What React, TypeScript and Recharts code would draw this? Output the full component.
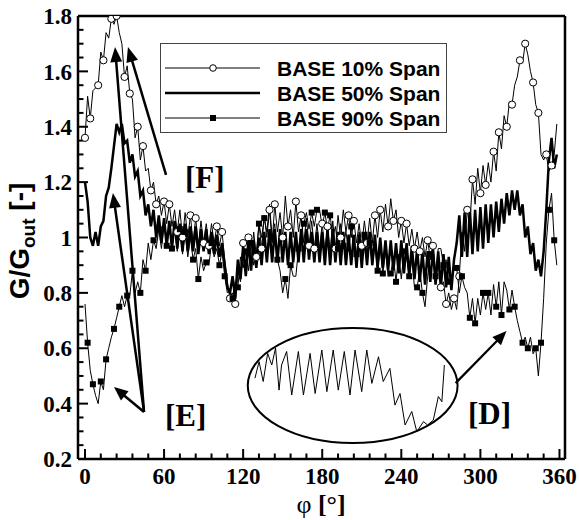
import React from 'react';
import { LineChart, Line, XAxis, YAxis, ReferenceLine, ReferenceArea, ReferenceDot, Legend } from 'recharts';

// ---------- data (phi grid step) ----------
const PHI_STEP = 2; // degrees between samples, phi = 0 .. 358

const S10 = [
  1.36, 1.51, 1.43, 1.53, 1.54, 1.55, 1.67, 1.64, 1.74, 1.72,
  1.79, 1.77, 1.80, 1.74, 1.70, 1.58, 1.62, 1.52, 1.50, 1.36,
  1.40, 1.28, 1.33, 1.24, 1.25, 1.17, 1.20, 1.12, 1.15, 1.08,
  1.13, 1.05, 1.12, 1.04, 1.10, 1.02, 1.10, 1.00, 1.09, 1.00,
  1.08, 0.98, 1.07, 0.97, 1.06, 0.98, 1.05, 0.97, 1.05, 0.98,
  1.04, 0.97, 1.02, 0.92, 0.84, 0.78, 0.80, 0.76, 0.88, 0.84,
  0.98, 0.88, 1.00, 0.90, 1.02, 0.93, 1.05, 0.96, 1.08, 1.00,
  1.10, 0.98, 1.12, 1.02, 1.09, 1.00, 1.15, 1.04, 1.10, 1.00,
  1.13, 1.02, 1.08, 0.98, 1.07, 0.97, 1.06, 0.96, 1.05, 0.96,
  1.05, 0.95, 1.04, 0.94, 1.06, 0.96, 1.08, 1.00, 1.10, 1.02,
  1.08, 1.00, 1.06, 0.98, 1.05, 0.97, 1.06, 0.98, 1.07, 0.98,
  1.08, 1.00, 1.10, 1.02, 1.12, 1.04, 1.14, 1.06, 1.10, 1.00,
  1.06, 0.98, 1.05, 0.97, 1.03, 0.96, 1.02, 0.95, 1.00, 0.93,
  0.99, 0.92, 0.97, 0.88, 0.90, 0.82, 0.84, 0.76, 0.80, 0.74,
  0.78, 0.74, 0.86, 1.02, 0.95, 1.10, 1.04, 1.21, 1.12, 1.25,
  1.16, 1.26, 1.19, 1.27, 1.20, 1.31, 1.24, 1.38, 1.32, 1.44,
  1.40, 1.49, 1.48, 1.55, 1.58, 1.64, 1.63, 1.70, 1.66, 1.60,
  1.56, 1.48, 1.45, 1.30, 1.28, 1.30, 1.24, 1.26, 1.30, 1.41,
];

const S50 = [
  1.20, 1.13, 1.00, 0.97, 1.02, 0.97, 1.04, 1.06, 1.15, 1.18,
  1.25, 1.33, 1.41, 1.38, 1.41, 1.34, 1.35, 1.27, 1.30, 1.22,
  1.24, 1.15, 1.17, 1.08, 1.12, 1.04, 1.10, 1.00, 1.08, 0.98,
  1.07, 0.97, 1.06, 0.96, 1.06, 0.96, 1.05, 0.95, 1.05, 0.95,
  1.04, 0.95, 1.04, 0.94, 1.03, 0.95, 1.03, 0.94, 1.02, 0.94,
  1.01, 0.93, 0.98, 0.90, 0.82, 0.80, 0.86, 0.78, 0.92, 0.85,
  0.97, 0.86, 0.99, 0.88, 0.99, 0.89, 1.00, 0.90, 1.02, 0.91,
  1.03, 0.91, 1.03, 0.91, 1.03, 0.91, 1.02, 0.90, 1.02, 0.91,
  1.02, 0.91, 1.03, 0.91, 1.03, 0.92, 1.02, 0.91, 1.02, 0.91,
  1.02, 0.90, 1.03, 0.90, 1.03, 0.91, 1.02, 0.90, 1.02, 0.90,
  1.01, 0.90, 1.01, 0.89, 1.01, 0.89, 1.01, 0.90, 1.02, 0.90,
  1.01, 0.89, 1.00, 0.89, 0.99, 0.88, 0.99, 0.88, 0.98, 0.87,
  0.99, 0.87, 0.98, 0.86, 0.97, 0.85, 0.96, 0.84, 0.95, 0.83,
  0.95, 0.84, 0.96, 0.83, 0.95, 0.82, 0.94, 0.82, 0.93, 0.81,
  0.92, 0.98, 1.08, 0.93, 1.09, 0.93, 1.10, 0.94, 1.10, 0.95,
  1.11, 0.96, 1.12, 0.98, 1.12, 1.00, 1.13, 1.02, 1.14, 1.05,
  1.16, 1.08, 1.17, 1.10, 1.17, 1.08, 1.12, 1.00, 1.04, 0.94,
  0.98, 0.88, 0.92, 0.86, 0.95, 1.10, 1.28, 1.36, 1.25, 1.30,
];

const S90 = [
  0.76, 0.62, 0.52, 0.47, 0.43, 0.40, 0.48, 0.45, 0.56, 0.60,
  0.64, 0.67, 0.71, 0.75, 0.79, 0.75, 0.79, 0.79, 0.88, 0.80,
  0.84, 0.80, 0.92, 0.88, 0.98, 0.92, 0.99, 0.96, 1.03, 0.96,
  1.05, 0.97, 1.04, 0.96, 1.04, 0.95, 1.03, 0.94, 1.02, 0.93,
  1.00, 0.92, 0.96, 0.85, 0.93, 0.88, 0.91, 0.90, 0.98, 0.93,
  0.96, 0.90, 0.95, 0.86, 0.80, 0.81, 0.78, 0.84, 0.82, 0.93,
  0.89, 0.95, 0.88, 0.98, 0.90, 0.94, 1.05, 1.00, 1.07, 1.02,
  1.12, 1.00, 1.05, 0.92, 0.88, 0.80, 0.85, 0.78, 0.90, 0.86,
  0.86, 0.96, 1.02, 1.05, 1.09, 1.03, 1.09, 1.04, 1.10, 1.10,
  1.04, 1.09, 1.03, 1.08, 1.00, 1.04, 0.96, 1.05, 0.97, 1.02,
  0.95, 1.04, 0.96, 0.94, 1.02, 0.95, 1.01, 0.94, 0.98, 0.90,
  0.97, 0.88, 0.96, 0.87, 0.95, 0.86, 0.87, 0.93, 0.84, 0.94,
  0.85, 0.95, 0.93, 0.86, 0.92, 0.82, 0.82, 0.88, 0.80, 0.75,
  0.86, 0.94, 0.94, 0.86, 0.96, 0.96, 0.90, 0.92, 0.84, 0.85,
  0.89, 0.89, 0.80, 0.86, 0.82, 0.80, 0.71, 0.78, 0.69, 0.78,
  0.72, 0.80, 0.74, 0.80, 0.72, 0.83, 0.75, 0.84, 0.72, 0.84,
  0.81, 0.74, 0.81, 0.75, 0.70, 0.66, 0.62, 0.64, 0.60, 0.64,
  0.58, 0.60, 0.50, 0.62, 0.78, 0.98, 1.10, 1.16, 0.99, 0.90,
];

// magnified detail drawn inside the ellipse
const INSET_PHI = [286.0, 287.3, 288.6, 290.0, 291.3, 292.5, 293.6, 294.4, 296.0, 297.6, 299.7, 301.3, 303.4, 305.0, 307.1, 308.7, 310.7, 312.3, 314.2, 316.0, 317.6, 319.7, 321.3, 322.9, 325.0, 326.5, 328.6, 330.2, 331.8, 333.4, 335.5, 337.1, 339.2, 340.5, 342.3, 343.9, 345.0, 345.8];
const INSET_G = [0.765, 0.809, 0.756, 0.831, 0.800, 0.845, 0.733, 0.800, 0.836, 0.720, 0.836, 0.720, 0.831, 0.724, 0.840, 0.729, 0.840, 0.733, 0.836, 0.720, 0.840, 0.729, 0.840, 0.751, 0.822, 0.756, 0.791, 0.693, 0.724, 0.640, 0.676, 0.622, 0.649, 0.640, 0.653, 0.716, 0.702, 0.800];

const X_TICKS = [0, 60, 120, 180, 240, 300, 360];
const X_MINOR = [12, 24, 36, 48, 72, 84, 96, 108, 132, 144, 156, 168, 192, 204, 216, 228, 252, 264, 276, 288, 312, 324, 336, 348];
const Y_TICKS = [0.2, 0.4, 0.6, 0.8, 1, 1.2, 1.4, 1.6, 1.8];
const Y_MINOR = [0.25, 0.3, 0.35, 0.45, 0.5, 0.55, 0.65, 0.7, 0.75, 0.85, 0.9, 0.95, 1.05, 1.1, 1.15, 1.25, 1.3, 1.35, 1.45, 1.5, 1.55, 1.65, 1.7, 1.75];

const SERIES_NAMES = ['BASE 10% Span', 'BASE 50% Span', 'BASE 90% Span'];

const X_DOMAIN: [number, number] = [-5.3, 364.2];
const Y_DOMAIN: [number, number] = [0.2, 1.8];

const data = S10.map((v, i) => ({ phi: i * PHI_STEP, s10: v, s50: S50[i], s90: S90[i] }));
const insetData = INSET_PHI.map((p, i) => ({ phi: p, g: INSET_G[i] }));

const SERIF = "'Liberation Serif', 'Times New Roman', serif";
const SANS = "'Liberation Sans', Arial, sans-serif";

// ---------- shapes ----------
const circleDot = (props: any) => {
  const { cx, cy, index } = props;
  const k = index % 5;
  if ((k !== 0 && k !== 2) || cx == null || cy == null) return <g key={`c${index}`} />;
  return <circle key={`c${index}`} cx={cx} cy={cy} r={3.6} fill="#fff" stroke="#000" strokeWidth={1} />;
};

const squareDot = (props: any) => {
  const { cx, cy, index } = props;
  const k = index % 5;
  if ((k !== 1 && k !== 3) || cx == null || cy == null) return <g key={`s${index}`} />;
  return <rect key={`s${index}`} x={cx - 3} y={cy - 3} width={6} height={6} fill="#000" />;
};

const xTick = (len: number) => (p: any) => {
  const yb = Math.max(p.y1, p.y2);
  return <line x1={p.x1} x2={p.x1} y1={yb} y2={yb - len} stroke="#000" strokeWidth={2} />;
};
const yTick = (len: number) => (p: any) => {
  const xl = Math.min(p.x1, p.x2);
  return <line x1={xl} x2={xl + len} y1={p.y1} y2={p.y1} stroke="#000" strokeWidth={2} />;
};

const arrow = (head: number, half: number, w: number) => (p: any) => {
  const { x1, y1, x2, y2 } = p;
  const dx = x2 - x1;
  const dy = y2 - y1;
  const L = Math.hypot(dx, dy) || 1;
  const ux = dx / L;
  const uy = dy / L;
  const bx = x2 - ux * head;
  const by = y2 - uy * head;
  const px = -uy * half;
  const py = ux * half;
  return (
    <g>
      <line x1={x1} y1={y1} x2={bx + ux * 2} y2={by + uy * 2} stroke="#000" strokeWidth={w} />
      <polygon points={`${x2},${y2} ${bx + px},${by + py} ${bx - px},${by - py}`} fill="#000" />
    </g>
  );
};

const ellipseShape = (p: any) => (
  <ellipse cx={p.x + p.width / 2} cy={p.y + p.height / 2} rx={p.width / 2} ry={p.height / 2} fill="none" stroke="#000" strokeWidth={2} />
);

const textShape = (label: string) => (p: any) => (
  <text x={p.cx} y={p.cy} fontFamily={SERIF} fontWeight="bold" fontSize={31} fill="#000">{label}</text>
);

const XTitle = () => (
  <text x={321} y={513} textAnchor="middle" fontFamily={SERIF} fontSize={26} fill="#000">
    <tspan>φ </tspan>
    <tspan fontWeight="bold">[°]</tspan>
  </text>
);

const YTitle = () => (
  <text x={29} y={241} transform="rotate(-90, 29, 241)" textAnchor="middle" fontFamily={SANS} fontWeight="bold" fontSize={28} fill="#000">
    <tspan>G/G</tspan>
    <tspan fontSize={19} dy={6}>out</tspan>
    <tspan dy={-6}> [-]</tspan>
  </text>
);

const LegendBox = () => {
  const rows = [25, 50, 75];
  return (
    <div style={{ width: 287, height: 90, border: '1px solid #444', boxSizing: 'border-box', background: '#fff' }}>
      <svg width={285} height={88} style={{ display: 'block' }}>
        {SERIES_NAMES.map((name, i) => (
          <g key={name}>
            <line x1={4} x2={99} y1={rows[i] - 1} y2={rows[i] - 1} stroke="#000" strokeWidth={i === 1 ? 2.5 : 1} />
            {i === 0 && <circle cx={52} cy={rows[i] - 1} r={3.3} fill="#fff" stroke="#000" strokeWidth={1} />}
            {i === 2 && <rect x={49} y={rows[i] - 4} width={6} height={6} fill="#000" />}
            <text x={116} y={rows[i] + 6.5} fontFamily={SANS} fontWeight="bold" fontSize={21} fill="#000">{name}</text>
          </g>
        ))}
      </svg>
    </div>
  );
};

const tickStyle = { fontFamily: SERIF, fontWeight: 'bold', fontSize: 23, fill: '#000' } as any;

export default function App() {
  return (
    <div style={{ position: 'fixed', left: 0, top: 0, width: 579, height: 520, background: '#fff' }}>
      <LineChart width={579} height={520} data={data} margin={{ top: 16, right: 14, bottom: 0, left: 0 }}>
        <XAxis
          dataKey="phi"
          type="number"
          domain={X_DOMAIN}
          ticks={X_TICKS}
          interval={0}
          allowDataOverflow
          height={61}
          tickLine={false}
          tickSize={0}
          tickMargin={9}
          tick={tickStyle}
          axisLine={{ stroke: '#000', strokeWidth: 2.5 }}
          label={<XTitle />}
        />
        <YAxis
          type="number"
          domain={Y_DOMAIN}
          ticks={Y_TICKS}
          interval={0}
          allowDataOverflow
          width={78}
          tickLine={false}
          tickSize={0}
          tickMargin={6}
          tick={tickStyle}
          axisLine={{ stroke: '#000', strokeWidth: 2.5 }}
          label={<YTitle />}
        />
        <Legend
          layout="vertical"
          align="center"
          verticalAlign="middle"
          wrapperStyle={{ position: 'absolute', left: 160, top: 43, width: 287, height: 90 }}
          content={() => <LegendBox />}
        />

        {X_TICKS.map((v) => (
          <ReferenceLine key={`xt${v}`} x={v} shape={xTick(10)} />
        ))}
        {X_MINOR.map((v) => (
          <ReferenceLine key={`xm${v}`} x={v} shape={xTick(5.5)} />
        ))}
        {Y_TICKS.map((v) => (
          <ReferenceLine key={`yt${v}`} y={v} shape={yTick(10)} />
        ))}
        {Y_MINOR.map((v) => (
          <ReferenceLine key={`ym${v}`} y={v} shape={yTick(5.5)} />
        ))}
        <ReferenceLine y={1.8} stroke="#000" strokeWidth={2.5} />
        <ReferenceLine x={364.2} stroke="#000" strokeWidth={2.5} />

        <ReferenceArea x1={123.5} x2={282.7} y1={0.258} y2={0.673} shape={ellipseShape} />

        <ReferenceLine segment={[{ x: 61.5, y: 1.226 }, { x: 32.6, y: 1.688 }]} shape={arrow(15, 6, 2.5)} />
        <ReferenceLine segment={[{ x: 44.8, y: 0.37 }, { x: 22.8, y: 1.688 }]} shape={arrow(15, 6, 2.5)} />
        <ReferenceLine segment={[{ x: 44.8, y: 0.37 }, { x: 21.2, y: 1.161 }]} shape={arrow(15, 6, 2.5)} />
        <ReferenceLine segment={[{ x: 44.8, y: 0.37 }, { x: 22.0, y: 0.46 }]} shape={arrow(14, 6, 2.5)} />
        <ReferenceLine segment={[{ x: 281.2, y: 0.474 }, { x: 319.8, y: 0.662 }]} shape={arrow(14, 6, 2.2)} />

        <ReferenceDot x={75.9} y={1.179} r={0} shape={textShape('[F]')} />
        <ReferenceDot x={60.7} y={0.319} r={0} shape={textShape('[E]')} />
        <ReferenceDot x={290.6} y={0.326} r={0} shape={textShape('[D]')} />

        <Line dataKey="s50" name={SERIES_NAMES[1]} stroke="#000" strokeWidth={2.5} dot={false} activeDot={false} isAnimationActive={false} />
        <Line dataKey="s10" name={SERIES_NAMES[0]} stroke="#000" strokeWidth={1} dot={circleDot} activeDot={false} isAnimationActive={false} />
        <Line dataKey="s90" name={SERIES_NAMES[2]} stroke="#000" strokeWidth={1} dot={squareDot} activeDot={false} isAnimationActive={false} />
      </LineChart>

      <div style={{ position: 'absolute', left: 248, top: 328 }}>
        <LineChart width={210} height={115} data={insetData} margin={{ top: 0, right: 0, bottom: 0, left: 0 }}>
          <XAxis dataKey="phi" type="number" domain={[283.8, 350.1]} hide height={0} />
          <YAxis type="number" domain={[0.592, 0.8987]} hide width={0} />
          <Line dataKey="g" stroke="#000" strokeWidth={1} dot={false} activeDot={false} isAnimationActive={false} />
        </LineChart>
      </div>
    </div>
  );
}
